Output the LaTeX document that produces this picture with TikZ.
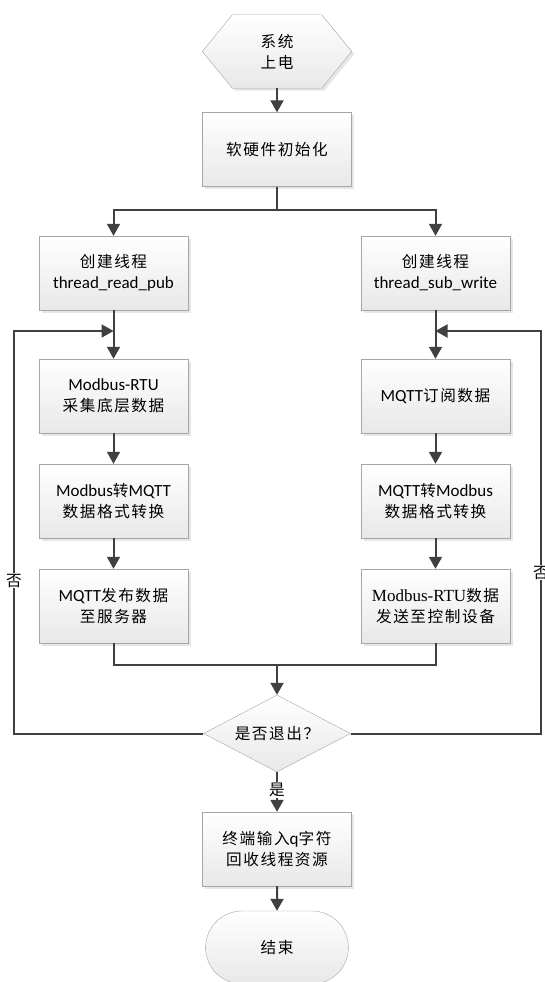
\documentclass[tikz,border=0pt]{standalone}
\usepackage{fontspec}
\setmainfont[Scale=0.92,LetterSpace=10]{Noto Sans CJK SC}
\newfontfamily\en{Carlito}
\newfontfamily\ens{Liberation Serif}
\usetikzlibrary{arrows.meta,shapes.geometric,shapes.misc,shadows,backgrounds}
\definecolor{lnc}{HTML}{404040}
\begin{document}
\begin{tikzpicture}[x=1pt,y=-1pt,
    font=\fontsize{17pt}{21pt}\selectfont,
    box/.style={draw=gray!70, top color=white, bottom color=black!9,
      minimum width=149pt, minimum height=74pt, align=center,
      drop shadow={shadow xshift=2.5pt,shadow yshift=-2.5pt,opacity=.2}},
    line/.style={draw=lnc, line width=2pt},
    arr/.style={line, -{Triangle[length=12pt,width=13pt]}},
    lab/.style={fill=white, inner sep=1pt}]
  \useasboundingbox (0,0) rectangle (544,982);
  \node (st) at (277,51.5) [minimum width=149pt, minimum height=73pt, align=center] {系统\\上电};
  \begin{scope}[on background layer]
    \draw[draw=gray!70, top color=white, bottom color=black!9,
      drop shadow={shadow xshift=2.5pt,shadow yshift=-2.5pt,opacity=.2}]
      (st.west) -- ([xshift=30pt]st.north west) -- ([xshift=-30pt]st.north east)
      -- (st.east) -- ([xshift=-30pt]st.south east) -- ([xshift=30pt]st.south west) -- cycle;
  \end{scope}
  \node[box] (init) at (277,149.5) {软硬件初始化};
  \coordinate (split) at (277,210);
  \node[box] (t1) at (113.5,273) {创建线程\\{\en thread\_read\_pub}};
  \node[box] (t2) at (435.5,273) {创建线程\\{\en thread\_sub\_write}};
  \coordinate (jl) at (113.5,331);
  \coordinate (jr) at (435.5,331);
  \node[box] (l1) at (113.5,396) {{\en Modbus-RTU}\\采集底层数据};
  \node[box] (l2) at (113.5,501) {{\en Modbus}转{\en MQTT}\\数据格式转换};
  \node[box] (l3) at (113.5,606) {{\en MQTT}发布数据\\至服务器};
  \node[box] (r1) at (435.5,396) {{\en MQTT}订阅数据};
  \node[box] (r2) at (435.5,501) {{\en MQTT}转{\en Modbus}\\数据格式转换};
  \node[box] (r3) at (435.5,606) {{\ens Modbus-RTU}数据\\发送至控制设备};
  \coordinate (merge) at (277,665);
  \node[diamond, aspect=1.9, inner sep=0pt, draw=gray!70, top color=white, bottom color=black!9,
    minimum width=147pt, minimum height=77pt] (dia) at (277,733.5) {是否退出？};
  \coordinate (lc) at (14,331);
  \coordinate (rc) at (541,331);
  \node[box] (rel) at (277,849) {终端输入{\en q}字符\\回收线程资源};
  \node[rounded rectangle, draw=gray!70, top color=white, bottom color=black!9,
    minimum width=149pt, minimum height=73pt] (fin) at (277,947.5) {结束};
  % connectors
  \draw[arr] (st) -- (init);
  \draw[line] (init) -- (split);
  \draw[arr] (split) -| (t1);
  \draw[arr] (split) -| (t2);
  \draw[arr] (t1) -- (l1);
  \draw[arr] (l1) -- (l2);
  \draw[arr] (l2) -- (l3);
  \draw[arr] (t2) -- (r1);
  \draw[arr] (r1) -- (r2);
  \draw[arr] (r2) -- (r3);
  \draw[line] (l3) |- (merge) -| (r3);
  \draw[arr] (merge) -- (dia);
  \draw[arr] (dia.west) -| node[lab, pos=0.69] {否} (lc) -- (jl);
  \draw[arr] (dia.east) -| node[lab, pos=0.70] {否} (rc) -- (jr);
  \draw[arr] (dia) -- node[lab, pos=0.45] {是} (rel);
  \draw[arr] (rel) -- (fin);
\end{tikzpicture}
\end{document}
